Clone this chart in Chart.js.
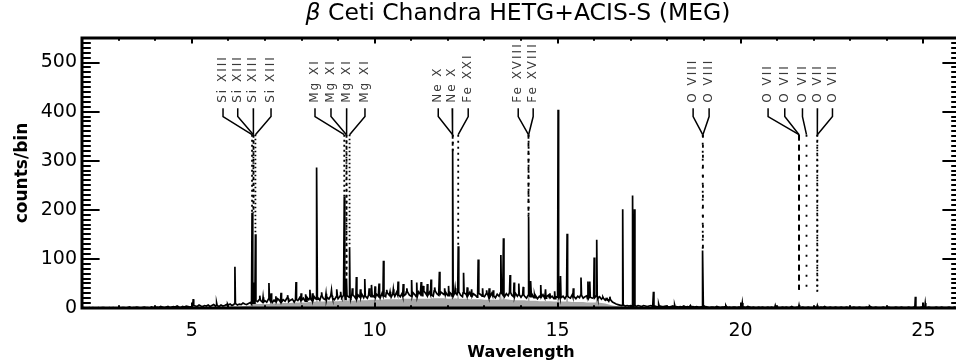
<!DOCTYPE html>
<html>
<head>
<meta charset="utf-8">
<script src="https://cdn.jsdelivr.net/npm/chart.js@4/dist/chart.umd.min.js"></script>
<style>
  html, body { margin: 0; padding: 0; overflow: hidden; background: #fff; }
  canvas { display: block; }
</style>
</head>
<body>
<canvas id="spec" width="962" height="363"></canvas>
<script>
// ---- spectrum data ------------------------------------------------------
// observed counts in 0.05 Å bins from 2.0 Å (one row per Ångström)
const obsBinStart = 2.0;
const obsBinWidth = 0.05;
const observedCounts = [
  0,1,0,0,1,0,1,0,0,1, 0,1,1,0,0,1,0,1,0,0,              // 2
  1,0,1,1,0,1,2,0,1,1, 2,1,0,1,2,1,1,0,2,1,              // 3
  1,2,1,3,2,1,2,3,1,2, 3,2,4,2,1,3,2,4,3,2,              // 4
  3,5,4,3,6,4,3,5,4,6, 3,5,7,4,5,3,6,4,5,7,              // 5
  6,8,5,7,9,6,8,7,10,8, 7,9,11,8,10,15,13,17,14,12,      // 6
  15,12,18,14,11,16,13,19,15,12, 17,14,20,13,16,18,12,17,15,21, // 7
  16,20,14,22,17,19,15,23,18,21, 16,24,19,17,22,18,25,20,17,23, // 8
  19,24,21,26,18,25,22,20,27,23, 19,26,22,28,21,24,20,27,23,25, // 9
  22,28,24,20,30,25,23,31,26,22, 29,24,32,27,23,30,25,28,33,26, // 10
  24,31,27,23,33,28,25,34,29,26, 32,27,24,35,29,26,33,30,27,31, // 11
  25,32,28,24,30,27,33,26,23,31, 28,25,32,24,29,26,22,30,27,24, // 12
  23,29,26,22,30,25,21,28,24,31, 27,23,29,25,32,26,23,30,24,27, // 13
  22,27,24,20,26,23,28,21,25,19, 24,22,27,20,23,26,21,24,19,23, // 14
  22,26,21,24,19,25,22,20,27,23, 19,24,21,26,20,23,25,19,22,20, // 15
  21,24,19,23,18,20,16,19,14,17, 12,10,8,7,6,5,6,4,5,4,         // 16
  5,4,6,3,5,4,3,5,4,3, 4,5,3,4,3,2,4,3,3,4,              // 17
  3,2,3,4,2,3,2,3,2,4, 2,3,2,2,3,2,3,2,2,3,              // 18
  2,3,2,1,2,2,1,3,2,1, 2,2,3,1,2,1,2,2,1,2,              // 19
  2,1,2,1,3,2,1,2,1,1, 2,1,2,1,1,2,1,2,1,1,              // 20
  2,1,1,2,1,2,1,1,3,1, 1,2,1,1,2,1,1,2,1,1,              // 21
  1,2,1,1,2,1,3,1,1,2, 1,1,2,1,1,2,1,1,2,1,              // 22
  1,1,2,1,1,2,1,1,1,2, 1,3,1,1,2,1,1,1,2,1,              // 23
  1,2,1,1,1,2,1,1,2,1, 1,1,2,1,1,2,1,1,1,2,              // 24
  2,1,1,2,1,1,1,2,1,1, 2,1,1,1,2,1,1,2,1,1,              // 25
  1                                                      // 26
];

// narrow emission features on top of the binned counts: wavelength (Å), peak counts
const lineWave = [
  5.04, 5.68, 5.98, 6.18, 6.648, 6.688, 6.740, 6.86, 6.95, 7.11, 7.17, 7.30, 7.44, 7.62,
  7.85, 7.99, 8.12, 8.23, 8.30, 8.42, 8.55, 8.67, 8.82, 8.97, 9.07, 9.169, 9.23, 9.314,
  9.39, 9.50, 9.61, 9.73, 9.85, 9.92, 10.01, 10.12, 10.24, 10.33, 10.42, 10.51, 10.64,
  10.78, 10.88, 11.01, 11.15, 11.27, 11.33, 11.44, 11.54, 11.64, 11.77, 11.92, 12.02,
  12.132, 12.20, 12.284, 12.43, 12.53, 12.65, 12.83, 12.95, 13.06, 13.13, 13.24, 13.45,
  13.52, 13.70, 13.81, 13.94, 14.06, 14.208, 14.27, 14.37, 14.54, 14.67, 14.79, 14.92,
  15.014, 15.08, 15.26, 15.43, 15.64, 15.83, 15.88, 16.00, 16.07, 16.24, 16.34, 16.43,
  16.78, 17.05, 17.10, 17.62, 17.77, 18.20, 18.63, 18.97, 19.60, 20.05, 20.95, 21.60,
  22.10, 23.53, 24.78, 25.05
];
const linePeak = [
  18, 10, 8, 84, 194, 52, 150, 25, 22, 51, 30, 24, 31, 26,
  53, 30, 28, 37, 30, 286, 32, 29, 36, 38, 33, 227, 60, 124,
  40, 63, 38, 59, 40, 47, 44, 50, 96, 37, 33, 38, 54,
  49, 40, 57, 52, 53, 45, 49, 58, 42, 74, 40, 45,
  318, 40, 126, 72, 42, 38, 99, 40, 36, 40, 36, 108,
  142, 67, 52, 50, 43, 186, 55, 26, 47, 38, 30, 34,
  404, 65, 151, 40, 62, 54, 54, 103, 139, 22, 18, 23,
  201, 229, 201, 33, 8, 6, 5, 117, 5, 10, 5, 6,
  5, 4, 23, 10
];

// smoothed (grey) spectrum in 0.1 Å bins from 2.0 Å
const smoothBinStart = 2.0;
const smoothBinWidth = 0.1;
const smoothCounts = [
  0, 0, 0, 0, 0, 0, 0, 0, 0, 0,           // 2
  0, 0, 0, 0, 1, 0, 0, 1, 0, 1,           // 3
  1, 0, 1, 1, 1, 1, 1, 2, 1, 1,           // 4
  2, 1, 2, 2, 2, 2, 2, 2, 2, 3,           // 5
  3, 3, 3, 3, 4, 4, 5, 8, 8, 8,           // 6
  8, 8, 9, 9, 9, 10, 10, 10, 11, 11,      // 7
  11, 11, 12, 12, 13, 13, 13, 14, 14, 14, // 8
  14, 15, 15, 15, 15, 16, 16, 16, 16, 17, // 9
  17, 17, 17, 18, 18, 18, 18, 18, 19, 19, // 10
  19, 19, 19, 19, 19, 19, 20, 20, 20, 20, // 11
  19, 19, 20, 19, 19, 19, 18, 18, 18, 18, // 12
  17, 17, 17, 17, 17, 18, 18, 17, 16, 16, // 13
  16, 16, 15, 15, 15, 14, 14, 14, 14, 13, // 14
  13, 13, 13, 13, 12, 12, 12, 12, 11, 11, // 15
  11, 11, 10, 9, 7, 5, 4, 3, 3, 3,        // 16
  3, 3, 2, 2, 2, 2, 2, 2, 2, 2,           // 17
  2, 1, 1, 2, 1, 1, 1, 1, 1, 1,           // 18
  1, 1, 1, 0, 1, 1, 0, 1, 1, 0,           // 19
  1, 1, 0, 1, 0, 1, 1, 0, 1, 0,           // 20
  1, 0, 1, 0, 1, 1, 0, 1, 0, 1,           // 21
  0, 1, 1, 0, 1, 0, 1, 0, 1, 0,           // 22
  1, 0, 0, 1, 0, 1, 0, 1, 0, 0,           // 23
  1, 0, 1, 0, 0, 1, 0, 1, 0, 1,           // 24
  0, 1, 0, 0, 1, 0, 1, 0, 0, 1,           // 25
  0                                        // 26
];
const smoothLineWave = [6.65, 6.69, 6.74, 8.42, 9.17, 9.23, 9.31, 12.13, 12.28, 13.45, 13.52,
  14.21, 15.01, 15.26, 16.07, 16.78, 17.05, 17.10, 18.97, 24.78];
const smoothLinePeak = [45, 32, 40, 40, 50, 25, 35, 60, 30, 30, 35,
  40, 60, 35, 30, 28, 27, 25, 20, 6];

// ---- line identifications ---------------------------------------------
const idText = ['Si XIII', 'Si XIII', 'Si XIII', 'Si XIII',
  'Mg XI', 'Mg XI', 'Mg XI', 'Mg XI',
  'Ne X', 'Ne X', 'Fe XXI',
  'Fe XVIII', 'Fe XVIII',
  'O VIII', 'O VIII',
  'O VII', 'O VII', 'O VII', 'O VII', 'O VII'];
const idWave = [6.648, 6.685, 6.688, 6.740,
  9.169, 9.228, 9.231, 9.314,
  12.132, 12.137, 12.284,
  14.204, 14.208,
  18.967, 18.973,
  21.600, 21.602, 21.804, 22.097, 22.101];
// counts level where each marker stops above the spectrum
const idMarkEnd = [194, 194, 194, 150,
  227, 62, 62, 125,
  318, 318, 126,
  186, 186,
  117, 117,
  37, 37, 31, 33, 33];

// ---- axis ticks ------------------------------------------------------
const xTickLabels = [5, 10, 15, 20, 25];
const yTickLabels = [0, 100, 200, 300, 400, 500];

// ---- layout of the identification labels (data units) ----------------
const labelAnchor = [5.855, 6.257, 6.683, 7.167,
  8.369, 8.806, 9.235, 9.735,
  11.738, 12.12, 12.557,
  13.924, 14.333,
  18.705, 19.142,
  20.754, 21.21, 21.694, 22.104, 22.514];
const labelTextLevel = 418;   // where the rotated text starts
const leaderTopLevel = 407;
const leaderKneeLevel = 390;
const markerTopLevel = 353;
const markerDash = [[2, 3], [1.5, 4], [3, 3], [1.5, 2.5],
  [2, 3], [1.5, 4], [3, 3], [1.5, 2.5],
  [4, 3], [2, 5], [2, 4],
  [4, 4], [2, 4],
  [2, 6], [3, 7],
  [6, 4], [5, 5], [2, 8], [2, 4], [1.5, 3.5]];

const FONT = '"DejaVu Sans", "Liberation Sans", sans-serif';

// merge binned counts with narrow features into one x/y series
function buildSeries(bins, start, width, waves, peaks, halfWidth) {
  const pts = [];
  bins.forEach((v, i) => {
    const x = +(start + i * width).toFixed(3);
    if (!waves.some(w => Math.abs(w - x) <= halfWidth)) pts.push({ x, y: v });
  });
  waves.forEach((w, k) => {
    const i = Math.min(bins.length - 1, Math.max(0, Math.round((w - start) / width)));
    const base = bins[i];
    pts.push({ x: w - halfWidth, y: base }, { x: w, y: peaks[k] }, { x: w + halfWidth, y: base });
  });
  pts.sort((a, b) => a.x - b.x);
  return pts;
}

const datasets = [];

// identification leaders and markers
idWave.forEach((w, k) => {
  datasets.push({
    data: [{ x: w, y: markerTopLevel }, { x: w, y: idMarkEnd[k] }],
    borderColor: '#000', borderWidth: 1.8, borderDash: markerDash[k],
    pointRadius: 0, fill: false, order: 0
  });
  datasets.push({
    data: [{ x: labelAnchor[k], y: leaderTopLevel }, { x: labelAnchor[k], y: leaderKneeLevel },
           { x: w, y: markerTopLevel }],
    borderColor: '#000', borderWidth: 1.5,
    pointRadius: 0, fill: false, order: 0
  });
});

datasets.push({
  data: buildSeries(observedCounts, obsBinStart, obsBinWidth, lineWave, linePeak, 0.014),
  borderColor: '#000', borderWidth: 1.7, pointRadius: 0, fill: false, order: 1
});
datasets.push({
  data: buildSeries(smoothCounts, smoothBinStart, smoothBinWidth, smoothLineWave, smoothLinePeak, 0.025),
  borderColor: 'rgba(0,0,0,0)', borderWidth: 0, backgroundColor: '#a9a9a9',
  pointRadius: 0, fill: 'origin', order: 2
});

// frame, inward ticks, title and rotated identification labels
const decorations = {
  id: 'decorations',
  afterDatasetsDraw(chart) {
    const { ctx, chartArea: a, scales: { x, y } } = chart;
    ctx.save();

    // identification labels
    ctx.fillStyle = '#3a3a3a';
    ctx.font = `12px ${FONT}`;
    if ('letterSpacing' in ctx) ctx.letterSpacing = '2px';
    ctx.textAlign = 'left';
    ctx.textBaseline = 'middle';
    idText.forEach((t, k) => {
      ctx.save();
      ctx.translate(x.getPixelForValue(labelAnchor[k]), y.getPixelForValue(labelTextLevel));
      ctx.rotate(-Math.PI / 2);
      ctx.fillText(t, 0, 0);
      ctx.restore();
    });
    if ('letterSpacing' in ctx) ctx.letterSpacing = '0px';

    // ticks (pointing inward on all four sides)
    ctx.strokeStyle = '#000';
    ctx.lineWidth = 2;
    ctx.beginPath();
    const yMajLen = 17.6, yMinLen = 8.8, xMajLen = 5.4, xMinLen = 2.7;
    for (let v = 10; v < 550; v += 10) {
      const p = Math.round(y.getPixelForValue(v));
      const len = v % 100 === 0 ? yMajLen : yMinLen;
      ctx.moveTo(a.left, p); ctx.lineTo(a.left + len, p);
      ctx.moveTo(a.right, p); ctx.lineTo(a.right - len, p);
    }
    for (let v = 3; v < 26; v += 1) {
      const p = Math.round(x.getPixelForValue(v));
      const len = v % 5 === 0 ? xMajLen : xMinLen;
      ctx.moveTo(p, a.bottom); ctx.lineTo(p, a.bottom - len);
      ctx.moveTo(p, a.top); ctx.lineTo(p, a.top + len);
    }
    ctx.stroke();

    // frame
    ctx.lineWidth = 3;
    ctx.strokeRect(a.left, a.top, a.right - a.left, a.bottom - a.top);

    // title with italic beta
    const size = 23.5;
    const cx = (a.left + a.right) / 2 - 3;
    const beta = 'β';
    const rest = ' Ceti Chandra HETG+ACIS-S (MEG)';
    ctx.fillStyle = '#000';
    ctx.textBaseline = 'middle';
    ctx.textAlign = 'left';
    ctx.font = `italic ${size}px ${FONT}`;
    const wb = ctx.measureText(beta).width;
    ctx.font = `${size}px ${FONT}`;
    const wr = ctx.measureText(rest).width;
    const sx = cx - (wb + wr) / 2;
    ctx.font = `italic ${size}px ${FONT}`;
    ctx.fillText(beta, sx, 14);
    ctx.font = `${size}px ${FONT}`;
    ctx.fillText(rest, sx + wb, 14);
    ctx.restore();
  }
};

new Chart(document.getElementById('spec'), {
  type: 'line',
  data: { datasets },
  options: {
    responsive: false,
    animation: false,
    devicePixelRatio: 1,
    events: [],
    layout: { padding: { top: 38, right: 2, left: 0, bottom: 0 } },
    plugins: { legend: { display: false }, tooltip: { enabled: false }, title: { display: false } },
    elements: { line: { tension: 0 }, point: { radius: 0 } },
    scales: {
      x: {
        type: 'linear', min: 2, max: 26,
        grid: { display: false, drawTicks: false },
        border: { display: false },
        afterBuildTicks: s => { s.ticks = xTickLabels.map(v => ({ value: v })); },
        afterFit: s => { s.height = 55; },
        ticks: { font: { family: FONT, size: 19 }, color: '#000', padding: 12, maxRotation: 0, autoSkip: false },
        title: { display: true, text: 'Wavelength', color: '#000',
                 font: { family: FONT, size: 16, weight: 'bold' }, padding: { top: 0, bottom: 0.5 } }
      },
      y: {
        type: 'linear', min: 0, max: 550,
        grid: { display: false, drawTicks: false },
        border: { display: false },
        afterBuildTicks: s => { s.ticks = yTickLabels.map(v => ({ value: v })); },
        afterFit: s => { s.width = 82; },
        ticks: { font: { family: FONT, size: 19 }, color: '#000', padding: 5, autoSkip: false },
        title: { display: true, text: 'counts/bin', color: '#000',
                 font: { family: FONT, size: 17, weight: 'bold' }, padding: { top: 12, bottom: 0 } }
      }
    }
  },
  plugins: [decorations]
});
</script>
</body>
</html>
